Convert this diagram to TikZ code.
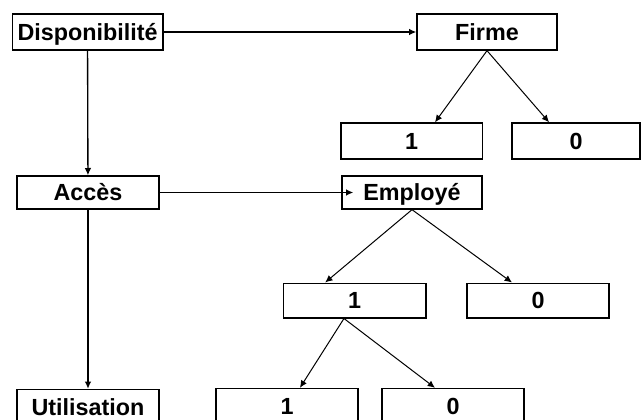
\documentclass[tikz,border=0pt]{standalone}
\usepackage{fontspec}
\setmainfont{Liberation Sans}
\usetikzlibrary{arrows.meta}
\tikzstyle{boite} = [draw, rectangle, line width=1pt, inner sep=0pt, minimum height=26pt, text height=12.3pt, text depth=0pt, font=\bfseries\fontsize{17.5}{19}\selectfont]
\tikzstyle{fleche} = [-{Latex[length=5.5pt,width=5pt]}, line width=1pt]
\tikzstyle{branche} = [-{Latex[length=5.5pt,width=5pt]}, line width=0.75pt]

\begin{document}
\begin{tikzpicture}[x=0.75pt, y=-0.75pt]
	\useasboundingbox (0,0) rectangle (641,420);
	\node[boite, minimum width=113pt, minimum height=27pt] (dispo) at (87.5,32) {Disponibilit\'e};
	\node[boite, minimum width=105pt, minimum height=27pt] (firme) at (487,32) {Firme};
	\node[boite, minimum width=106pt, minimum height=27pt] (f1) at (411.5,141) {1};
	\node[boite, minimum width=96pt, minimum height=27pt] (f0) at (576,141) {0};
	\node[boite, minimum width=106.5pt, minimum height=24.75pt] (acces) at (88,192.5) {Acc\`es};
	\node[boite, minimum width=105pt, minimum height=24.75pt] (employe) at (412,192.5) {Employ\'e};
	\node[boite, minimum width=107pt] (e1) at (354.5,300.5) {1};
	\node[boite, minimum width=106.5pt] (e0) at (538,300.5) {0};
	\node[boite, minimum width=106.5pt, minimum height=27pt] (util) at (88,407.5) {Utilisation};
	\node[boite, minimum width=106.5pt, minimum height=27pt] (b1) at (287,406.5) {1};
	\node[boite, minimum width=106.5pt, minimum height=27pt] (b0) at (453,406.5) {0};

	\draw[fleche] (dispo) -- (firme);
	\draw[fleche] (dispo) -- (acces);
	\draw[fleche] (acces) -- (util);
	\draw[fleche, shorten >=-9pt] (acces) -- (employe);

	\draw[branche] (firme.south) -- ([xshift=17.6pt]f1.north);
	\draw[branche] (firme.south) -- ([xshift=-20.2pt]f0.north);
	\draw[branche] (employe.south) -- ([xshift=-22pt]e1.north);
	\draw[branche] (employe.south) -- ([xshift=-19.5pt]e0.north);
	\draw[branche] ([xshift=-7.9pt]e1.south) -- ([xshift=9.7pt]b1.north);
	\draw[branche] ([xshift=-7.9pt]e1.south) -- ([xshift=-13.5pt]b0.north);
\end{tikzpicture}
\end{document}
